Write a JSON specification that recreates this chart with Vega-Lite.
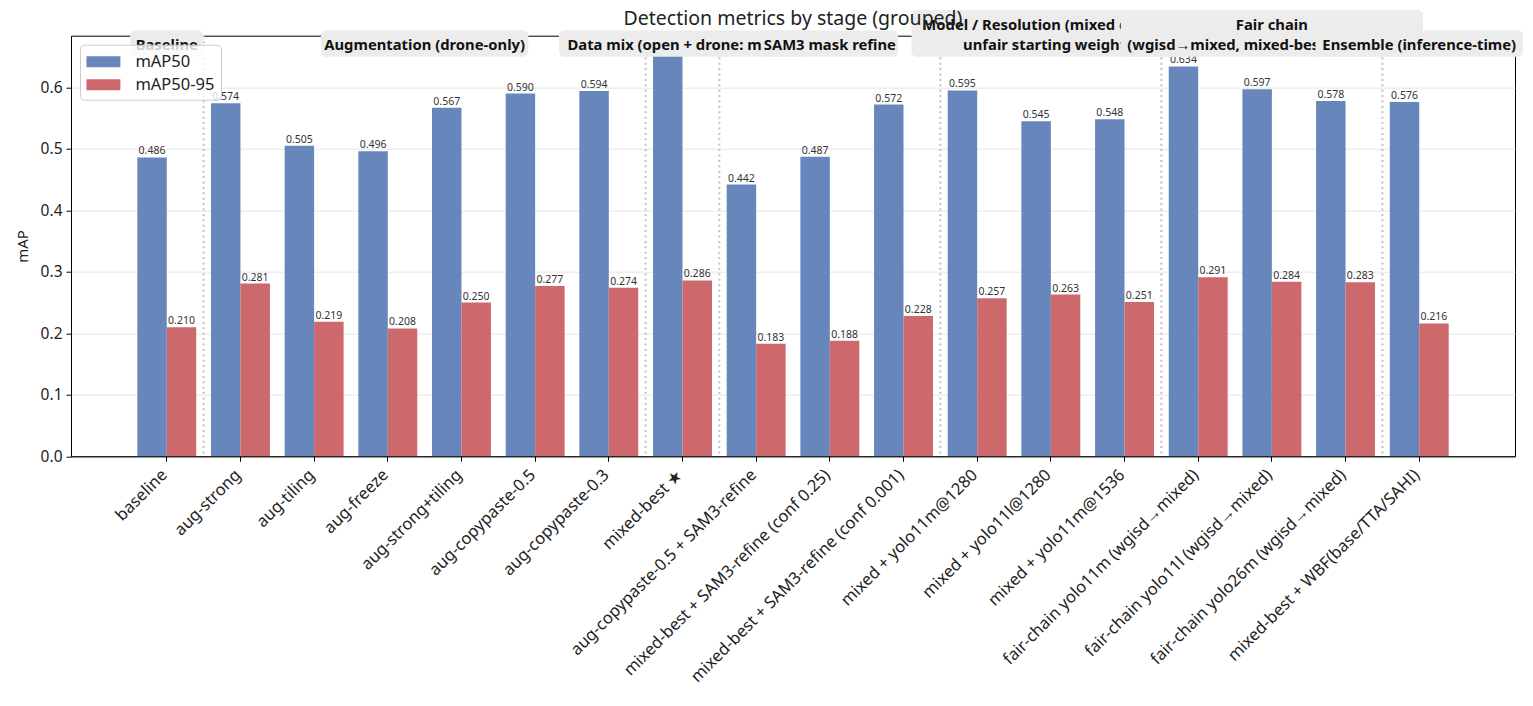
{
  "$schema": "https://vega.github.io/schema/vega-lite/v6.json",
  "autosize": {"type": "none"},
  "width": 1444,
  "height": 420.6,
  "padding": {"left": 71, "top": 35.7, "right": 18, "bottom": 249.7},
  "title": {
    "text": "Detection metrics by stage (grouped)",
    "fontSize": 19.5,
    "fontWeight": "normal",
    "color": "#222222",
    "anchor": "middle",
    "frame": "group",
    "offset": 8,
    "dy": 27
  },
  "datasets": {
    "runs": [
      {"run": "baseline", "stage": "Baseline", "mAP50": 0.486, "mAP50-95": 0.210},
      {"run": "aug-strong", "stage": "Augmentation (drone-only)", "mAP50": 0.574, "mAP50-95": 0.281},
      {"run": "aug-tiling", "stage": "Augmentation (drone-only)", "mAP50": 0.505, "mAP50-95": 0.219},
      {"run": "aug-freeze", "stage": "Augmentation (drone-only)", "mAP50": 0.496, "mAP50-95": 0.208},
      {"run": "aug-strong+tiling", "stage": "Augmentation (drone-only)", "mAP50": 0.567, "mAP50-95": 0.250},
      {"run": "aug-copypaste-0.5", "stage": "Augmentation (drone-only)", "mAP50": 0.590, "mAP50-95": 0.277},
      {"run": "aug-copypaste-0.3", "stage": "Augmentation (drone-only)", "mAP50": 0.594, "mAP50-95": 0.274},
      {"run": "mixed-best ★", "stage": "Data mix (open + drone: mixed)", "mAP50": 0.662, "mAP50-95": 0.286},
      {"run": "aug-copypaste-0.5 + SAM3-refine", "stage": "SAM3 mask refine", "mAP50": 0.442, "mAP50-95": 0.183},
      {"run": "mixed-best + SAM3-refine (conf 0.25)", "stage": "SAM3 mask refine", "mAP50": 0.487, "mAP50-95": 0.188},
      {"run": "mixed-best + SAM3-refine (conf 0.001)", "stage": "SAM3 mask refine", "mAP50": 0.572, "mAP50-95": 0.228},
      {"run": "mixed + yolo11m@1280", "stage": "Model / Resolution (mixed dataset,\nunfair starting weights)", "mAP50": 0.595, "mAP50-95": 0.257},
      {"run": "mixed + yolo11l@1280", "stage": "Model / Resolution (mixed dataset,\nunfair starting weights)", "mAP50": 0.545, "mAP50-95": 0.263},
      {"run": "mixed + yolo11m@1536", "stage": "Model / Resolution (mixed dataset,\nunfair starting weights)", "mAP50": 0.548, "mAP50-95": 0.251},
      {"run": "fair-chain yolo11m (wgisd→mixed)", "stage": "Fair chain\n(wgisd→mixed, mixed-best as baseline)", "mAP50": 0.634, "mAP50-95": 0.291},
      {"run": "fair-chain yolo11l (wgisd→mixed)", "stage": "Fair chain\n(wgisd→mixed, mixed-best as baseline)", "mAP50": 0.597, "mAP50-95": 0.284},
      {"run": "fair-chain yolo26m (wgisd→mixed)", "stage": "Fair chain\n(wgisd→mixed, mixed-best as baseline)", "mAP50": 0.578, "mAP50-95": 0.283},
      {"run": "mixed-best + WBF(base/TTA/SAHI)", "stage": "Ensemble (inference-time)", "mAP50": 0.576, "mAP50-95": 0.216}
    ]
  },
  "data": {"name": "runs"},
  "config": {
    "font": "Noto Sans",
    "view": {"stroke": "#000000", "strokeWidth": 1},
    "axis": {
      "domainColor": "#000000",
      "tickColor": "#000000",
      "labelColor": "#222222",
      "titleColor": "#222222",
      "titleFontWeight": "normal"
    },
    "legend": {
      "orient": "top-left",
      "offset": 9,
      "fillColor": "rgba(255,255,255,0.8)",
      "strokeColor": "#cccccc",
      "cornerRadius": 4,
      "padding": 6,
      "labelFontSize": 16.5,
      "labelColor": "#222222",
      "symbolOffset": 6.4,
      "labelOffset": 21,
      "rowPadding": 3,
      "symbolType": "M-1.6,-0.52H1.6V0.52H-1.6Z",
      "symbolSize": 449,
      "symbolStrokeWidth": 0,
      "symbolOpacity": 1
    }
  },
  "resolve": {"scale": {"x": "independent"}},
  "layer": [
    {
      "transform": [{"fold": ["mAP50", "mAP50-95"], "as": ["metric", "value"]}],
      "encoding": {
        "x": {
          "field": "run",
          "type": "nominal",
          "sort": null,
          "scale": {"paddingInner": 0, "paddingOuter": 0.8},
          "axis": {
            "title": null,
            "labelAngle": -45,
            "labelAlign": "right",
            "labelBaseline": "top",
            "labelFontSize": 16.5,
            "labelPadding": 5,
            "labelOffset": -8,
            "labelLimit": 500,
            "labelOverlap": false,
            "tickSize": 5,
            "grid": false
          }
        }
      },
      "layer": [
        {
          "mark": {"type": "bar", "clip": true},
          "encoding": {
            "xOffset": {"field": "metric", "type": "nominal", "sort": ["mAP50", "mAP50-95"], "scale": {"paddingInner": 0, "paddingOuter": 0.25}},
            "y": {
              "field": "value",
              "type": "quantitative",
              "scale": {"domain": [0, 0.684], "nice": false, "zero": true},
              "axis": {
                "title": "mAP",
                "titleFontSize": 15,
                "titlePadding": 10,
                "labelFontSize": 15.5,
                "labelPadding": 4,
                "format": ".1f",
                "tickCount": 7,
                "tickSize": 5,
                "grid": true,
                "gridColor": "#e6e6e6",
                "gridWidth": 1
              }
            },
            "color": {
              "field": "metric",
              "type": "nominal",
              "scale": {"domain": ["mAP50", "mAP50-95"], "range": ["#6787bc", "#cd686c"]},
              "legend": {"title": null}
            }
          }
        },
        {
          "mark": {"type": "text", "baseline": "bottom", "dy": -1, "fontSize": 10.5, "color": "#333333"},
          "encoding": {
            "xOffset": {"field": "metric", "type": "nominal", "sort": ["mAP50", "mAP50-95"]},
            "y": {"field": "value", "type": "quantitative"},
            "text": {"field": "value", "type": "quantitative", "format": ".3f"}
          }
        },
        {
          "transform": [
            {"filter": "datum.metric === 'mAP50'"},
            {"window": [{"op": "row_number", "as": "pos"}]},
            {"window": [{"op": "row_number", "as": "rankInStage"}], "groupby": ["stage"]}
          ],
          "mark": {"type": "rule", "strokeDash": [2, 3.4], "strokeWidth": 2.1, "color": "#c4c4c4"},
          "encoding": {
            "x": {"field": "run", "type": "nominal", "sort": null, "bandPosition": 0},
            "opacity": {
              "condition": {"test": "datum.rankInStage === 1 && datum.pos > 1", "value": 1},
              "value": 0
            }
          }
        }
      ]
    },
    {
      "transform": [
        {"window": [{"op": "row_number", "as": "idx"}]},
        {"aggregate": [{"op": "mean", "field": "idx", "as": "center"}], "groupby": ["stage"]}
      ],
      "encoding": {
        "x": {"field": "center", "type": "quantitative", "scale": {"domain": [-0.3, 19.3], "nice": false, "zero": false}, "axis": null}
      },
      "layer": [
        {
          "transform": [{"filter": {"field": "stage", "oneOf": ["Baseline", "Augmentation (drone-only)", "Data mix (open + drone: mixed)"]}}],
          "mark": {"type": "rect", "fill": "#ececec", "cornerRadius": 5, "width": {"expr": "length(datum.stage) * 7.9 + 10"}},
          "encoding": {"y": {"datum": 0.6498}, "y2": {"datum": 0.6924}}
        },
        {
          "transform": [{"filter": "indexof(datum.stage, 'Model') === 0"}],
          "mark": {"type": "rect", "fill": "#ececec", "cornerRadius": 5, "width": {"expr": "max(indexof(datum.stage, '\\n'), length(datum.stage) - indexof(datum.stage, '\\n') - 1) * 7.9 + 10"}},
          "encoding": {"y": {"datum": 0.6498}, "y2": {"datum": 0.7257}}
        },
        {
          "transform": [{"filter": "indexof(datum.stage, 'Baseline') === 0 || indexof(datum.stage, 'Augmentation') === 0 || indexof(datum.stage, 'Data mix') === 0 || indexof(datum.stage, 'Model') === 0"}],
          "mark": {"type": "text", "fontWeight": "bold", "fontSize": 14.8, "lineBreak": "\n", "lineHeight": 20, "baseline": "bottom", "color": "#111111", "dy": {"expr": "indexof(datum.stage, '\\n') >= 0 ? -20 : 0"}},
          "encoding": {"y": {"datum": 0.6558}, "text": {"field": "stage"}}
        },
        {
          "transform": [{"filter": {"field": "stage", "equal": "SAM3 mask refine"}}],
          "mark": {"type": "rect", "fill": "#ececec", "cornerRadius": 5, "width": {"expr": "length(datum.stage) * 7.9 + 10"}},
          "encoding": {"y": {"datum": 0.6498}, "y2": {"datum": 0.6924}}
        },
        {
          "transform": [{"filter": "indexof(datum.stage, 'Fair chain') === 0"}],
          "mark": {"type": "rect", "fill": "#ececec", "cornerRadius": 5, "width": {"expr": "max(indexof(datum.stage, '\\n'), length(datum.stage) - indexof(datum.stage, '\\n') - 1) * 7.9 + 10"}},
          "encoding": {"y": {"datum": 0.6498}, "y2": {"datum": 0.7257}}
        },
        {
          "transform": [{"filter": "indexof(datum.stage, 'SAM3') === 0 || indexof(datum.stage, 'Fair chain') === 0"}],
          "mark": {"type": "text", "fontWeight": "bold", "fontSize": 14.8, "lineBreak": "\n", "lineHeight": 20, "baseline": "bottom", "color": "#111111", "dy": {"expr": "indexof(datum.stage, '\\n') >= 0 ? -20 : 0"}},
          "encoding": {"y": {"datum": 0.6558}, "text": {"field": "stage"}}
        },
        {
          "transform": [{"filter": "indexof(datum.stage, 'Ensemble') === 0"}],
          "mark": {"type": "rect", "fill": "#ececec", "cornerRadius": 5, "width": {"expr": "length(datum.stage) * 7.9 + 10"}},
          "encoding": {"y": {"datum": 0.6498}, "y2": {"datum": 0.6924}}
        },
        {
          "transform": [{"filter": "indexof(datum.stage, 'Ensemble') === 0"}],
          "mark": {"type": "text", "fontWeight": "bold", "fontSize": 14.8, "baseline": "bottom", "color": "#111111"},
          "encoding": {"y": {"datum": 0.6558}, "text": {"field": "stage"}}
        }
      ]
    }
  ]
}
